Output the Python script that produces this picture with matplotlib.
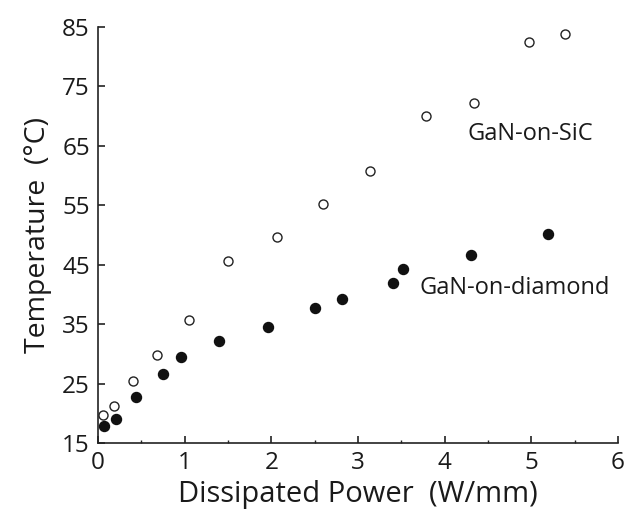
import matplotlib.pyplot as plt
from matplotlib.ticker import MultipleLocator

plt.rcParams['font.family'] = ['Open Sans', 'DejaVu Sans']

# GaN-on-SiC (open circles)
sic_power = [0.06, 0.18, 0.40, 0.68, 1.05, 1.50, 2.07, 2.60, 3.14, 3.79, 4.34, 4.97, 5.39]
sic_temp = [19.7, 21.2, 25.4, 29.8, 35.7, 45.6, 49.7, 55.3, 60.7, 70.1, 72.3, 82.4, 83.8]

# GaN-on-diamond (filled circles)
dia_power = [0.07, 0.21, 0.44, 0.75, 0.96, 1.39, 1.96, 2.50, 2.81, 3.40, 3.52, 4.31, 5.19]
dia_temp = [17.9, 19.1, 22.7, 26.6, 29.4, 32.2, 34.5, 37.8, 39.2, 42.0, 44.3, 46.6, 50.1]

xticks = [0, 1, 2, 3, 4, 5, 6]
yticks = [15, 25, 35, 45, 55, 65, 75, 85]

fig = plt.figure(figsize=(6.33, 5.20), dpi=100)
ax = fig.add_axes([0.155, 0.148, 0.821, 0.800])

ax.plot(sic_power, sic_temp, 'o', ms=6.5, mfc='white', mec='#222222', mew=1.0, clip_on=False)
ax.plot(dia_power, dia_temp, 'o', ms=7.2, mfc='#111111', mec='#111111', clip_on=False)

ax.text(4.27, 67.0, 'GaN-on-SiC', fontsize=17, va='center', ha='left', color='#1a1a1a')
ax.text(3.71, 41.1, 'GaN-on-diamond', fontsize=17, va='center', ha='left', color='#1a1a1a')

ax.set_xlim(0, 6)
ax.set_ylim(15, 85)
ax.set_xticks(xticks)
ax.set_yticks(yticks)
ax.xaxis.set_minor_locator(MultipleLocator(0.5))

for s in ['top', 'right']:
    ax.spines[s].set_visible(False)
for s in ['left', 'bottom']:
    ax.spines[s].set_linewidth(1.2)
    ax.spines[s].set_color('#222222')

ax.tick_params(which='major', direction='in', length=5, width=1.2, color='#222222',
               labelsize=17.5, pad=6, labelcolor='#1a1a1a')
ax.tick_params(which='minor', direction='in', length=2.5, width=1.0, color='#222222')

ax.set_xlabel('Dissipated Power  (W/mm)', fontsize=21, color='#1a1a1a', labelpad=3)
ax.set_ylabel('Temperature  (°C)', fontsize=20.5, color='#1a1a1a', labelpad=7)

fig.savefig('out.png', dpi=100)
